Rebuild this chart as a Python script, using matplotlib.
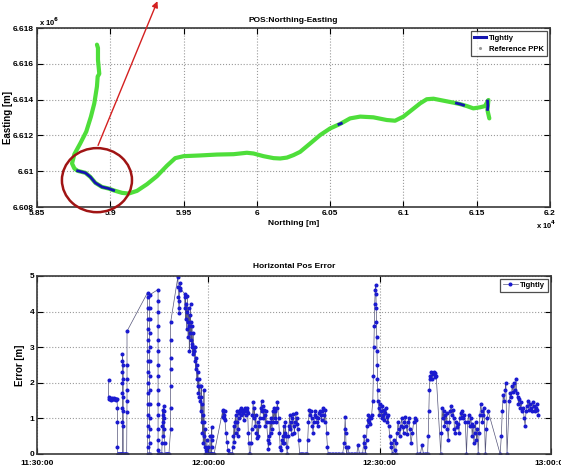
import numpy as np
import matplotlib
matplotlib.use('Agg')
import matplotlib.pyplot as plt
from matplotlib.patches import Ellipse, FancyArrowPatch
from matplotlib.lines import Line2D
from matplotlib.ticker import FuncFormatter

plt.rcParams['font.family'] = ['Liberation Sans', 'DejaVu Sans']
plt.rcParams['font.weight'] = 'bold'

# ---------------- Top panel data (Northing x1e4, Easting x1e6) ----------------
ppk_north = [5.8909, 5.8916, 5.8916, 5.8925, 5.8914, 5.8909, 5.8891, 5.8868, 5.8836,
             5.8795, 5.8755, 5.8739, 5.8755, 5.8777, 5.8830, 5.8864, 5.8898, 5.8943,
             5.8989, 5.9023, 5.9080, 5.9125, 5.9182, 5.9250, 5.9318, 5.9386, 5.9443,
             5.9500, 5.9614, 5.9727, 5.9841, 5.9932, 5.9977, 6.0045, 6.0114, 6.0159,
             6.0205, 6.0250, 6.0295, 6.0364, 6.0432, 6.0500, 6.0568, 6.0636, 6.0705,
             6.0795, 6.0886, 6.0943, 6.1000, 6.1057, 6.1114, 6.1159, 6.1205, 6.1273,
             6.1341, 6.1386, 6.1432, 6.1477, 6.1523, 6.1557, 6.1573, 6.1580, 6.1573,
             6.1586]
ppk_east = [6.61707, 6.61688, 6.61622, 6.61544, 6.61529, 6.61473, 6.61379, 6.61305,
            6.61221, 6.61155, 6.61095, 6.61043, 6.61015, 6.61002, 6.60991, 6.60968,
            6.60935, 6.60912, 6.60903, 6.60893, 6.60879, 6.60875, 6.60890, 6.60927,
            6.60972, 6.61030, 6.61073, 6.61084, 6.61088, 6.61093, 6.61095, 6.61103,
            6.61099, 6.61084, 6.61073, 6.61071, 6.61076, 6.61090, 6.61108, 6.61155,
            6.61202, 6.61239, 6.61264, 6.61295, 6.61305, 6.61301, 6.61286, 6.61282,
            6.61305, 6.61342, 6.61379, 6.61402, 6.61405, 6.61394, 6.61383, 6.61375,
            6.61364, 6.61351, 6.61357, 6.61364, 6.61389, 6.61398, 6.61342, 6.61295]

tight_north = [5.8777, 5.8830, 5.8864, 5.8898, 5.8943, 5.8989, 5.9023, np.nan,
               6.0560, 6.0576, np.nan,
               6.1362, 6.1386, 6.1410, np.nan,
               6.1574, 6.1576, 6.1574]
tight_east = [6.61002, 6.60991, 6.60968, 6.60935, 6.60912, 6.60903, 6.60893, np.nan,
              6.61262, 6.61267, np.nan,
              6.61380, 6.61375, 6.61369, np.nan,
              6.61392, 6.61365, 6.61345]

north_ticks = [5.85, 5.9, 5.95, 6.0, 6.05, 6.1, 6.15, 6.2]
east_ticks = [6.608, 6.610, 6.612, 6.614, 6.616, 6.618]

# ---------------- Bottom panel data: (start min, end min, error values) ----------------
# minutes after 11:30:00
err_segments = [
    (12.54, 12.54, [2.08, 1.6]),
    (12.6, 14.0, [1.55, 1.56, 1.54, 1.55, 1.53, 1.56, 1.55, 1.54, 1.55, 1.56, 1.55, 1.54, 1.55, 1.53, 1.55]),
    (14.08, 14.08, [1.3, 0.9, 0.2]),
    (14.15, 14.85, [0, 0, 0, 0, 0, 0, 0, 0]),
    (14.95, 14.95, [0.0, 0.9, 1.3, 1.7, 2.0, 2.3, 2.6, 2.8]),
    (15.1, 15.1, [2.5, 2.1, 1.6, 1.2, 0.8, 0.0]),
    (15.2, 15.7, [0, 0, 0, 0, 0]),
    (15.76, 15.76, [1.17, 1.5, 1.8, 2.1, 2.5, 3.45]),
    (19.35, 19.35, [4.53, 4.4, 4.1, 3.8, 3.5, 3.2, 2.9, 2.6, 2.3, 2.0, 1.7, 1.4, 1.1, 0.8, 0.5, 0.2, 0.0]),
    (19.72, 19.72, [0.0, 0.3, 0.7, 1.0, 1.4, 1.8, 2.2, 2.6, 3.0, 3.4, 3.8, 4.1, 4.47]),
    (21.2, 21.2, [4.62, 4.3, 4.0, 3.6, 3.2, 2.9, 2.5, 2.2, 1.8, 1.4, 1.1, 0.7, 0.4, 0.1, 0.0]),
    (21.3, 21.85, [0, 0, 0, 0, 0]),
    (21.9, 22.35, [0.3, 0.8, 1.1, 1.25, 0.9, 0.5, 1.0, 1.35, 1.2, 0.7, 0.3]),
    (22.4, 23.1, [0, 0, 0, 0, 0, 0]),
    (23.4, 23.4, [0.7, 1.3, 1.9, 2.4, 2.7, 3.2, 3.7]),
    (24.66, 25.1, [4.97, 4.7, 4.4, 4.1, 3.95, 4.3, 4.6, 4.8, 4.65]),
    (25.85, 27.5, [4.5, 4.1, 4.4, 3.8, 4.2, 3.5, 4.0, 4.45, 3.7, 3.3, 4.1, 3.6, 2.9, 3.9, 3.4,
                   4.2, 3.2, 3.7, 3.0, 3.6, 3.1, 2.8, 3.4, 2.9, 3.0]),
    (27.55, 28.6, [2.9, 2.6, 3.0, 2.4, 2.7, 2.1, 2.5, 1.9, 2.3, 1.7, 2.1, 1.6, 1.9, 1.5]),
    (28.65, 29.5, [1.6, 1.2, 1.9, 0.9, 1.4, 0.6, 1.1, 0.3, 0.9, 1.8, 0.5, 0.2, 0.7, 0.0]),
    (29.55, 30.5, [0.1, 0.0, 0.4, 0.0, 0.2, 0.0, 0.0, 0.0, 0.5, 0.0, 0.0]),
    (30.6, 30.6, [0.2, 0.5, 0.75, 0.4, 0.0]),
    (30.7, 31.0, [0, 0, 0]),
    (32.5, 32.9, [1.2, 1.05, 1.25, 1.1, 1.0, 1.2, 0.95]),
    (33.1, 33.6, [0.6, 0.35, 0.1, 0.0]),
    (33.7, 34.2, [0, 0, 0, 0]),
    (34.3, 35.4, [0.2, 0.5, 0.8, 0.35, 0.9, 1.1, 0.6, 0.9, 1.2, 0.7, 0.5, 1.0, 1.15]),
    (35.5, 36.9, [1.2, 1.25, 1.1, 1.3, 1.2, 1.15, 1.25, 0.95, 1.2, 1.3, 1.25, 1.1, 1.2, 1.28, 1.15]),
    (37.0, 37.3, [0.6, 0.3, 0.0, 0.0]),
    (37.5, 39.0, [0.3, 0.7, 1.1, 1.45, 1.0, 1.3, 0.8, 1.1, 0.6, 0.45, 0.9, 0.5, 0.8, 1.0]),
    (39.2, 40.2, [1.3, 1.5, 1.2, 1.35, 1.0, 1.25, 1.1, 0.8, 1.2, 0.9]),
    (40.4, 40.6, [0.4, 0.15, 0.3]),
    (40.7, 42.1, [0.5, 0.9, 0.6, 1.0, 0.7, 1.2, 0.9, 1.3, 1.0, 1.2, 0.9, 1.3, 1.45]),
    (42.3, 43.0, [1.0, 0.6, 0.2, 0.1, 0.4, 0.3]),
    (43.1, 43.8, [0.5, 0.8, 0.3, 0.6, 0.9, 0.5, 0.2, 0.0]),
    (44.0, 45.8, [0.5, 0.8, 1.1, 0.7, 0.9, 0.55, 1.0, 1.13, 0.8, 0.6, 0.9, 1.15, 0.85, 1.0, 0.7, 0.4]),
    (46.0, 47.3, [0, 0, 0, 0, 0, 0, 0]),
    (47.4, 50.5, [0.4, 0.9, 1.25, 1.1, 1.2, 1.0, 0.8, 0.6, 0.9, 1.1, 1.2, 1.05, 0.9, 0.8, 1.0,
                  1.15, 1.2, 1.1, 0.95, 1.2, 1.3, 1.1, 0.9, 1.25]),
    (50.7, 51.0, [0.6, 0.2, 0.0]),
    (51.1, 53.5, [0, 0, 0, 0, 0, 0, 0, 0, 0, 0]),
    (53.8, 54.2, [0.3, 0.7, 1.05, 0.6, 0.2, 0.0]),
    (54.4, 56.0, [0.2, 0, 0, 0, 0, 0, 0]),
    (56.2, 57.0, [0.25, 0, 0, 0]),
    (57.2, 57.5, [0.3, 0.5, 0.2, 0.0]),
    (57.7, 58.6, [0.4, 0.8, 0.95, 1.1, 0.9, 1.05, 0.85, 1.0, 1.1]),
    (58.8, 59.3, [1.5, 2.2, 3.0, 3.6, 4.2, 4.6, 4.76]),
    (59.35, 59.7, [4.5, 4.1, 3.7, 3.3, 2.9, 2.5, 2.1, 1.8, 1.5]),
    (59.8, 61.5, [1.3, 1.1, 1.4, 1.2, 1.0, 1.35, 1.1, 1.25, 0.95, 1.15, 1.3, 1.05, 0.9, 1.1]),
    (61.6, 62.2, [0.8, 0.5, 0.3, 0.2, 0.0]),
    (62.3, 62.8, [0.0, 0.4, 0.1, 0.0]),
    (62.9, 65.3, [0.3, 0.6, 0.9, 0.7, 0.5, 0.8, 1.0, 0.75, 0.6, 0.9, 1.05, 0.8, 0.55, 0.9, 1.0, 0.7]),
    (65.5, 66.4, [0.3, 0.6, 0.9, 1.0, 0.95]),
    (66.6, 68.2, [0.0, 0, 0, 0.25, 0, 0, 0]),
    (68.4, 68.8, [0.0, 0.5, 1.2, 1.8, 2.1]),
    (68.9, 69.9, [2.2, 2.3, 2.1, 2.25, 2.3, 2.15, 2.28, 2.2]),
    (70.7, 70.7, [0.0]),
    (70.8, 72.0, [0.6, 1.3, 1.0, 1.2, 0.8, 1.1, 0.9, 1.15, 0.7, 0.4]),
    (72.2, 73.0, [0.9, 1.2, 1.35, 1.1, 1.25, 1.0]),
    (73.1, 73.9, [0.7, 0.6, 0.9, 0.75, 0.85, 0.6]),
    (74.0, 75.0, [1.0, 1.15, 1.05, 1.2, 1.0, 1.1, 0.9]),
    (75.2, 75.2, [0.0]),
    (75.4, 76.1, [0.9, 1.1, 0.8, 1.0, 0.85]),
    (76.2, 77.1, [0.5, 0.8, 0.3, 0.6, 0.9, 0.4, 0.7]),
    (77.25, 77.25, [0.0]),
    (77.4, 78.3, [0.6, 1.1, 1.4, 1.2, 0.9, 1.1, 1.3]),
    (78.5, 78.5, [0.0]),
    (78.7, 79.0, [0.7, 1.0, 1.2]),
    (81.1, 81.1, [0.0]),
    (81.3, 81.8, [0.5, 1.2, 1.65, 1.5]),
    (82.0, 82.1, [1.8, 2.0]),
    (82.3, 82.3, [0.0]),
    (82.7, 84.2, [1.5, 1.7, 1.6, 1.9, 1.75, 2.0, 1.8, 2.1, 1.7, 1.6]),
    (84.3, 87.8, [1.4, 1.55, 1.3, 1.45, 1.2, 1.3, 1.0, 0.8, 1.2, 1.35, 1.5, 1.25, 1.4, 1.3,
                  1.2, 1.45, 1.35, 1.2, 1.3, 1.4, 1.25, 1.1]),
]
time_ticks = [0, 30, 60, 90]
time_labels = ['11:30:00', '12:00:00', '12:30:00', '13:00:00']
err_ticks = [0, 1, 2, 3, 4, 5]

err_t = np.concatenate([np.linspace(a, b, len(v)) for a, b, v in err_segments])
err_v = np.concatenate([np.array(v, dtype=float) for a, b, v in err_segments])

# ---------------- Figure ----------------
fig = plt.figure(figsize=(5.61, 4.72), dpi=100)
FS = 6
spine_c = '#3a3a3a'

def style(ax, xpad=2):
    for s in ax.spines.values():
        s.set_color(spine_c)
        s.set_linewidth(1.2)
    ax.tick_params(direction='in', length=4, width=0.8, top=True, right=True,
                   labelsize=FS, colors='black', pad=2)
    ax.tick_params(axis='x', pad=xpad)
    for lab in ax.get_xticklabels() + ax.get_yticklabels():
        lab.set_fontweight('bold')
    ax.grid(True, linestyle=':', color='#9a9a9a', linewidth=0.8)

fmt = FuncFormatter(lambda v, p: '%g' % round(v, 4))

ax1 = fig.add_axes([37/561, 1-207/472, 513/561, 179/472])
ax1.plot(ppk_north, ppk_east, color='#4ede3a', lw=3.0, solid_capstyle='round',
         solid_joinstyle='round', zorder=2)
ax1.plot(tight_north, tight_east, color='#1515b0', lw=2.0, zorder=3)
ax1.set_xlim(5.85, 6.2)
ax1.set_ylim(6.608, 6.618)
ax1.set_xticks(north_ticks)
ax1.set_yticks(east_ticks)
ax1.xaxis.set_major_formatter(fmt)
ax1.yaxis.set_major_formatter(fmt)
style(ax1)
ax1.set_title('POS:Northing-Easting', fontsize=FS, fontweight='bold', pad=4)
ax1.set_xlabel('Northing [m]', fontsize=FS, fontweight='bold', labelpad=2)
ax1.set_ylabel('Easting [m]', fontsize=FS+1, fontweight='bold')
ax1.yaxis.set_label_coords(-0.047, 0.5)
fig.text(39/561, 1-22/472, r'x 10$^6$', fontsize=FS-0.5, fontweight='bold', va='center')
fig.text(536/561, 1-225/472, r'x 10$^4$', fontsize=FS-0.5, fontweight='bold', va='center')
h1 = [Line2D([], [], color='#1515b0', lw=2.2),
      Line2D([], [], color='#999999', marker='.', ls='none', ms=2.5)]
leg1 = ax1.legend(h1, ['Tightly', 'Reference PPK'], loc='upper right',
                  frameon=True, fancybox=False, edgecolor='#222222', handlelength=1.6,
                  borderpad=0.45, labelspacing=0.5, handletextpad=0.3,
                  borderaxespad=0.4, prop={'weight': 'bold', 'size': FS-0.5})
leg1.get_frame().set_linewidth(0.9)

ell = Ellipse((5.8909, 6.6095), 0.0478, 0.00358, fill=False, edgecolor='#a01414',
              lw=1.8, clip_on=False, zorder=5)
ax1.add_patch(ell)
fig.add_artist(FancyArrowPatch(
    (97/561, 1-148/472), (158.5/561, 1.003), transform=fig.transFigure,
    arrowstyle='-|>', mutation_scale=9, color='#d42020', lw=1.0))

ax2 = fig.add_axes([37/561, 1-454/472, 514/561, 178/472])
ax2.plot(err_t, err_v, color='#55557a', lw=0.5, marker='.', ms=3.8,
         mfc='#1a1ad0', mec='#1a1ad0', label='Tightly')
ax2.set_xlim(0, 90)
ax2.set_ylim(0, 5)
ax2.set_xticks(time_ticks)
ax2.set_xticklabels(time_labels)
ax2.set_yticks(err_ticks)
style(ax2, xpad=4)
ax2.set_title('Horizontal Pos Error', fontsize=FS, fontweight='bold', pad=6)
ax2.set_ylabel('Error [m]', fontsize=FS+1, fontweight='bold')
ax2.yaxis.set_label_coords(-0.024, 0.5)
leg2 = ax2.legend(loc='upper right', frameon=True, fancybox=False,
                  edgecolor='#222222', handlelength=2.0, borderpad=0.35,
                  handletextpad=0.3, borderaxespad=0.4,
                  prop={'weight': 'bold', 'size': FS-0.5})
leg2.get_frame().set_linewidth(0.9)

fig.savefig('out.png', dpi=100)
